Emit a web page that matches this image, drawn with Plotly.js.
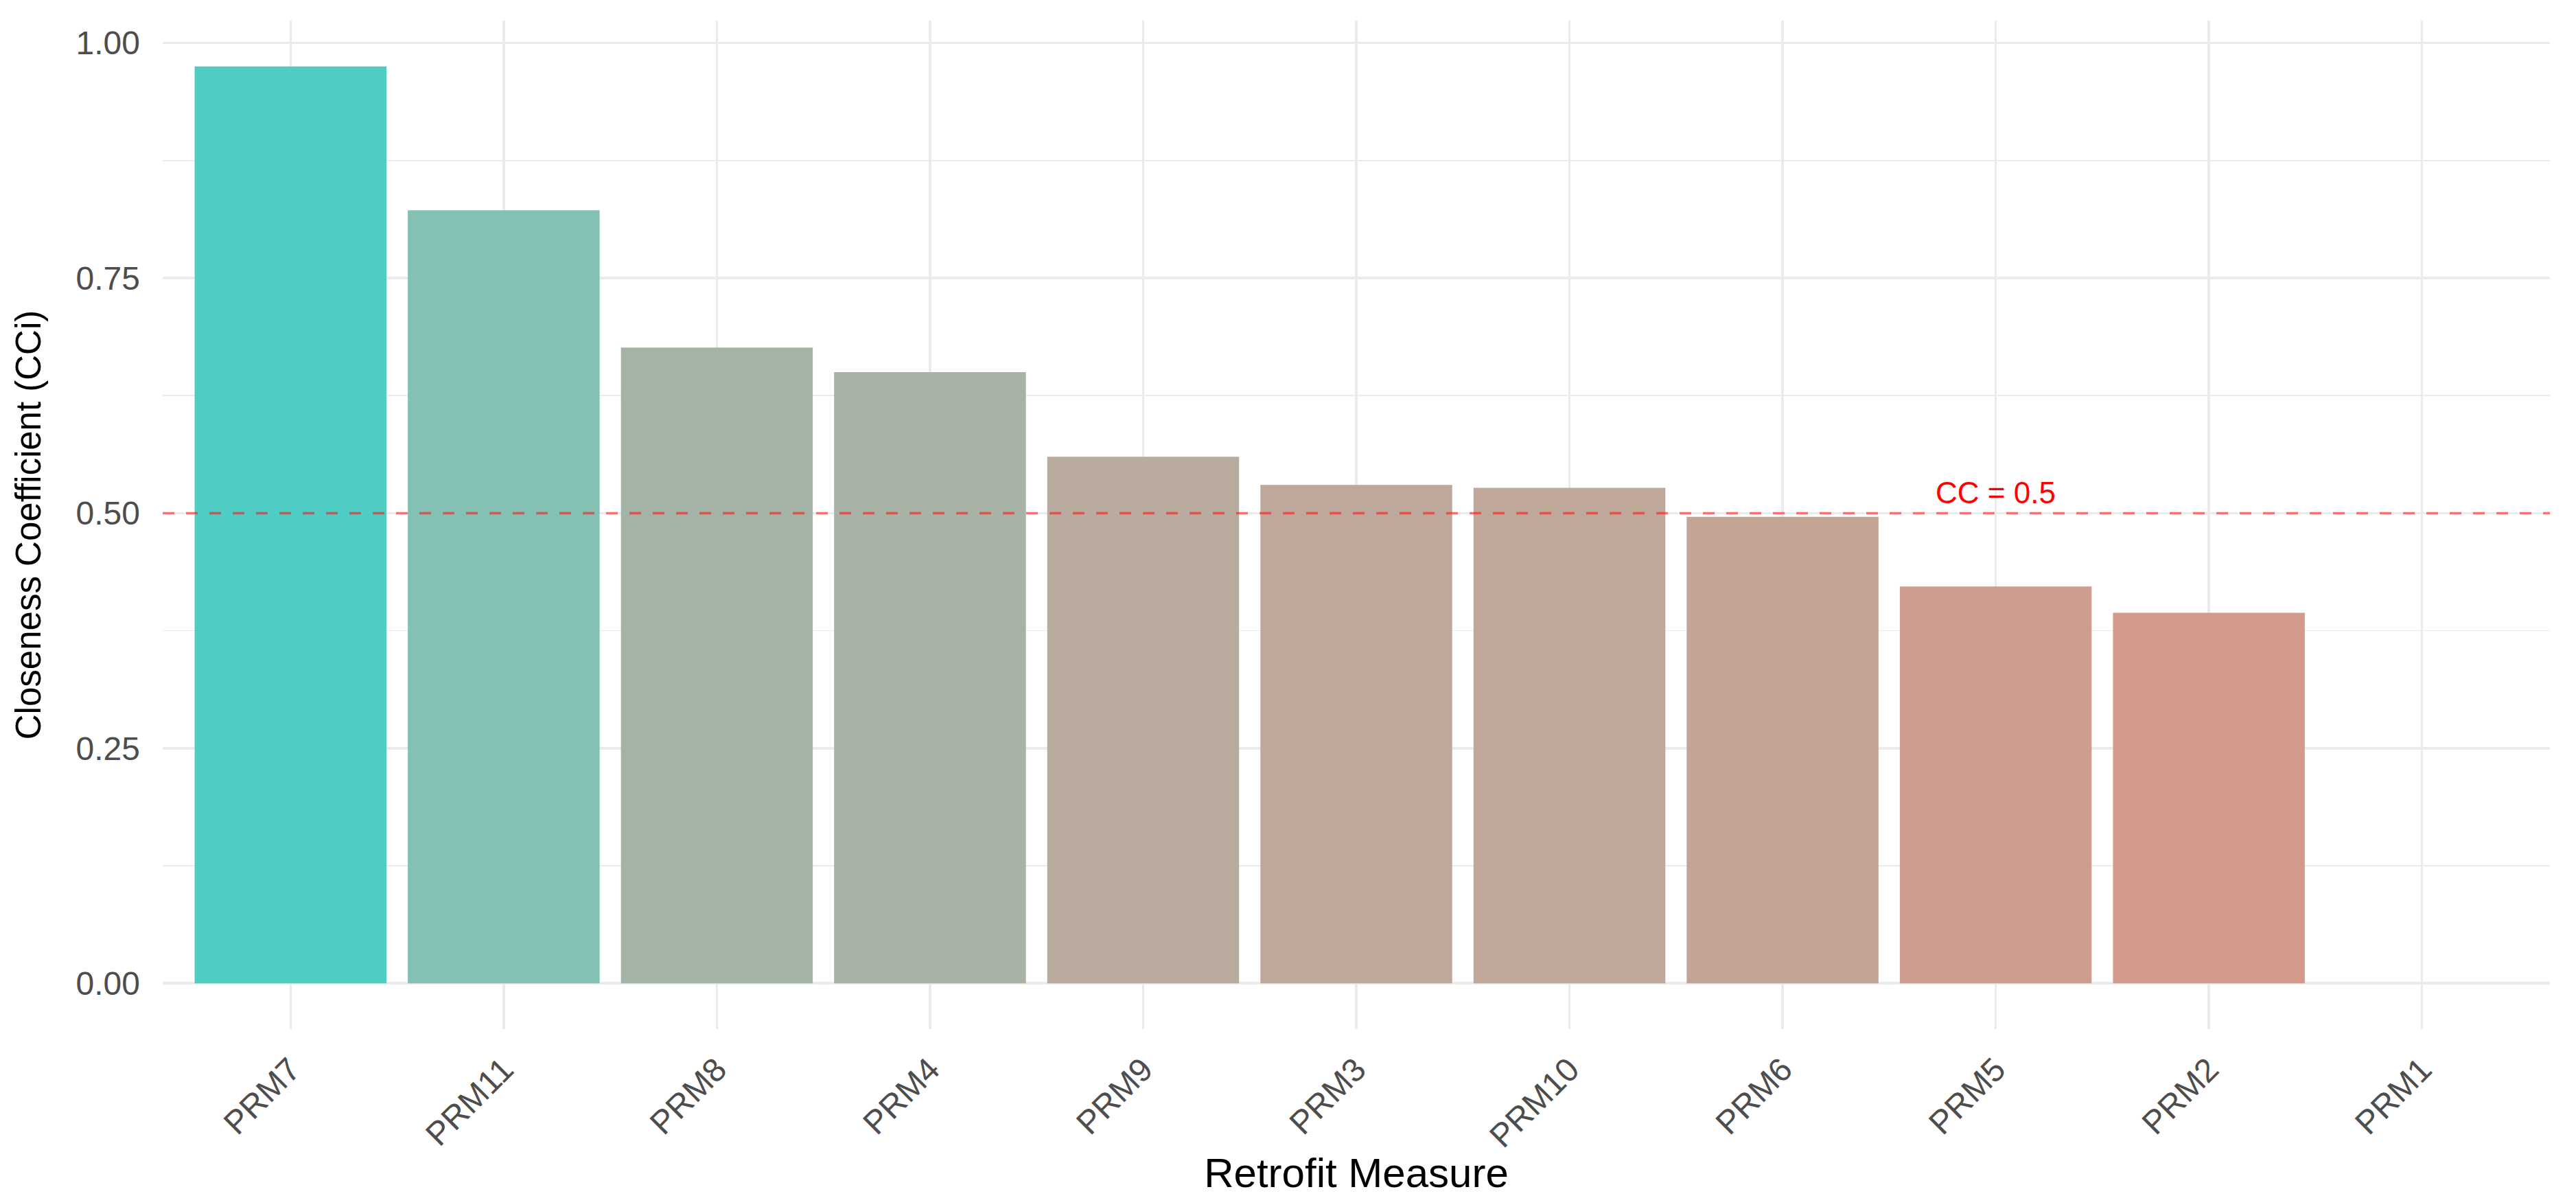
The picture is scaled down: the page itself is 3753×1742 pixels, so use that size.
<!DOCTYPE html>
<html>
<head>
<meta charset="utf-8">
<script src="https://cdn.plot.ly/plotly-3.0.1.min.js"></script>
<style>html,body{margin:0;padding:0;background:#fff;}#chart{width:3753px;height:1742px;}</style>
</head>
<body>
<div id="chart"></div>
<script>
// Data
const measures = ["PRM7", "PRM11", "PRM8", "PRM4", "PRM9", "PRM3", "PRM10", "PRM6", "PRM5", "PRM2", "PRM1"];
const closeness = [0.975, 0.822, 0.676, 0.650, 0.560, 0.530, 0.527, 0.496, 0.422, 0.394, 0.0];
const threshold = 0.5;
const thresholdLabel = "CC = 0.5";
const yTicks = [0, 0.25, 0.5, 0.75, 1.0];

// Fill colours (gradient teal -> salmon)
const barColors = ["#4FCDC4", "#84C0B4", "#A3B3A6", "#A8B2A5", "#B9AB9E", "#BEA89B", "#BFA89A", "#C3A495", "#CD9D8F", "#D39A8C", "#FF6B6B"];

const FONT = "'Liberation Sans', Arial, sans-serif";
const GRID = "#EBEBEB";

const trace = {
  type: "bar",
  x: measures,
  y: closeness,
  width: 0.9,
  marker: { color: barColors, line: { width: 0 } },
  hoverinfo: "x+y"
};

const ymax = Math.max(...closeness, threshold);
const ymin = Math.min(0, ...closeness);
const pad = (ymax - ymin) * 0.05;

const layout = {
  width: 3753,
  height: 1742,
  margin: { l: 237, r: 38, t: 30, b: 243 },
  paper_bgcolor: "#ffffff",
  plot_bgcolor: "#ffffff",
  showlegend: false,
  font: { family: FONT, color: "#000000" },
  xaxis: {
    type: "category",
    categoryorder: "array",
    categoryarray: measures,
    range: [-0.6, measures.length - 0.4],
    showgrid: true,
    gridcolor: GRID,
    gridwidth: 3.5,
    zeroline: false,
    showline: false,
    ticks: "",
    tickangle: -45,
    ticklabelstandoff: 20,
    tickfont: { family: FONT, size: 48, color: "#4D4D4D" },
    title: { text: "Retrofit Measure", font: { family: FONT, size: 60, color: "#000000" }, standoff: 14 }
  },
  yaxis: {
    range: [ymin - pad, ymax + pad],
    tickvals: yTicks,
    ticktext: yTicks.map(v => v.toFixed(2)),
    showgrid: true,
    gridcolor: GRID,
    gridwidth: 3.5,
    minor: { dtick: 0.125, tick0: 0, showgrid: true, gridcolor: GRID, gridwidth: 1.8, ticks: "" },
    zeroline: false,
    showline: false,
    ticks: "",
    ticklabelstandoff: 32,
    tickfont: { family: FONT, size: 48, color: "#4D4D4D" },
    title: { text: "Closeness Coefficient (CCi)", font: { family: FONT, size: 51, color: "#000000" }, standoff: 34 }
  },
  shapes: [{
    type: "line",
    xref: "paper", x0: 0, x1: 1,
    yref: "y", y0: threshold, y1: threshold,
    line: { color: "rgba(255,0,0,0.5)", width: 3.5, dash: "17px,17px" },
    layer: "above"
  }],
  annotations: [{
    x: "PRM5", y: threshold, xref: "x", yref: "y",
    text: thresholdLabel,
    showarrow: false,
    yanchor: "bottom",
    yshift: 3,
    font: { family: FONT, size: 44, color: "#FF0000" }
  }]
};

Plotly.newPlot("chart", [trace], layout, { staticPlot: true, displayModeBar: false });
</script>
</body>
</html>
